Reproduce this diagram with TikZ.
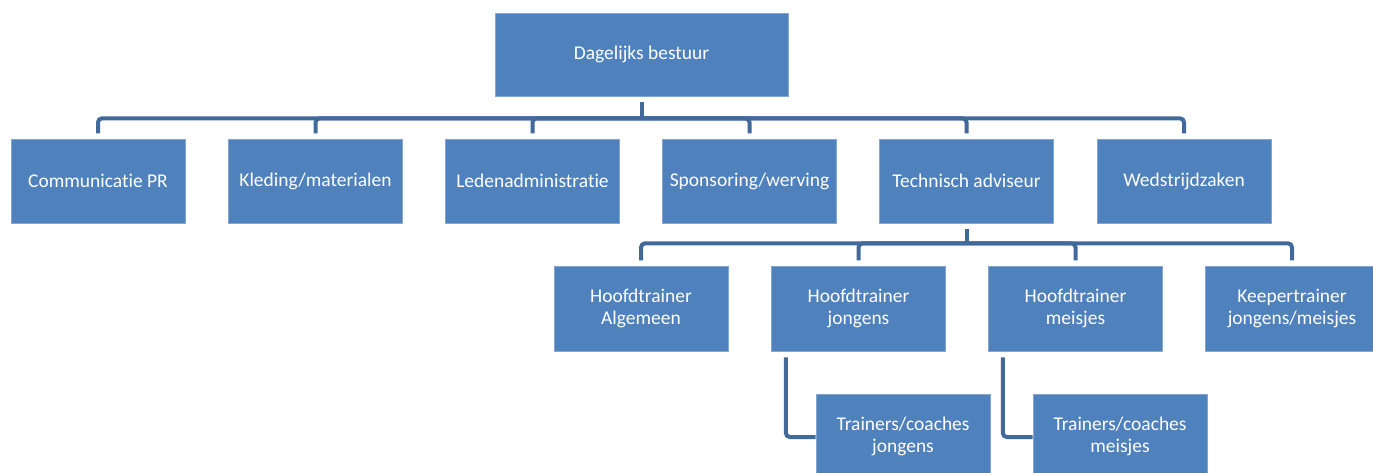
\documentclass[tikz,border=0pt]{standalone}
\usepackage{fontspec}
\setmainfont[Ligatures=NoCommon]{Carlito}
\definecolor{boxblue}{HTML}{4F81BD}
\definecolor{lineblue}{HTML}{41699A}
\begin{document}
\begin{tikzpicture}[x=0.75pt,y=-0.75pt,
  box/.style={fill=boxblue,draw=boxblue!70!white,line width=0.5pt,text=white,
    minimum width=130.5pt,minimum height=63pt,inner sep=0pt,align=center,
    font=\fontsize{14.6}{16.5}\selectfont},
  conn/.style={draw=lineblue,line width=3pt,rounded corners=3pt}]
\clip (0,0) rectangle (1373,472);
\fill[white] (0,0) rectangle (1373,472);
\node[box,minimum width=219.75pt,minimum height=62.25pt] (top) at (641.5,54.5) {Dagelijks bestuur};
\node[box] (a) at (98,181) {Communicatie PR};
\node[box] (b) at (315.5,181) {Kleding/materialen};
\node[box] (c) at (532.5,181) {Ledenadministratie};
\node[box] (d) at (749.5,181) {Sponsoring/werving};
\node[box] (e) at (966.5,181) {Technisch adviseur};
\node[box] (f) at (1184,181) {Wedstrijdzaken};
\node[box,minimum height=63.75pt] (g) at (641,308.5) {Hoofdtrainer\\Algemeen};
\node[box,minimum height=63.75pt] (h) at (858.5,308.5) {Hoofdtrainer\\jongens};
\node[box,minimum height=63.75pt] (i) at (1075.5,308.5) {Hoofdtrainer\\meisjes};
\node[box,minimum height=63.75pt] (j) at (1292,308.5) {Keepertrainer\\jongens/meisjes};
\node[box] (k) at (903,436) {Trainers/coaches\\jongens};
\node[box] (l) at (1120,436) {Trainers/coaches\\meisjes};
% level 1
\coordinate (bus1) at ([yshift=-16.5pt]top.south);
\draw[conn,rounded corners=0pt] ([yshift=-4pt]top.south) -- (bus1);
\foreach \n in {a,b,c,d,e,f}{
  \draw[conn] (bus1) -| ([yshift=4pt]\n.north);
}
% level 2
\coordinate (bus2) at ([yshift=-15pt]e.south);
\draw[conn,rounded corners=0pt] ([yshift=-4.5pt]e.south) -- (bus2);
\foreach \n in {g,h,i,j}{
  \draw[conn] (bus2) -| ([yshift=4pt]\n.north);
}
% level 3
\draw[conn] ([xshift=11pt,yshift=-4.5pt]h.south west) |- (k.west |- 0,437);
\draw[conn] ([xshift=11pt,yshift=-4.5pt]i.south west) |- (l.west |- 0,437);
\end{tikzpicture}
\end{document}
